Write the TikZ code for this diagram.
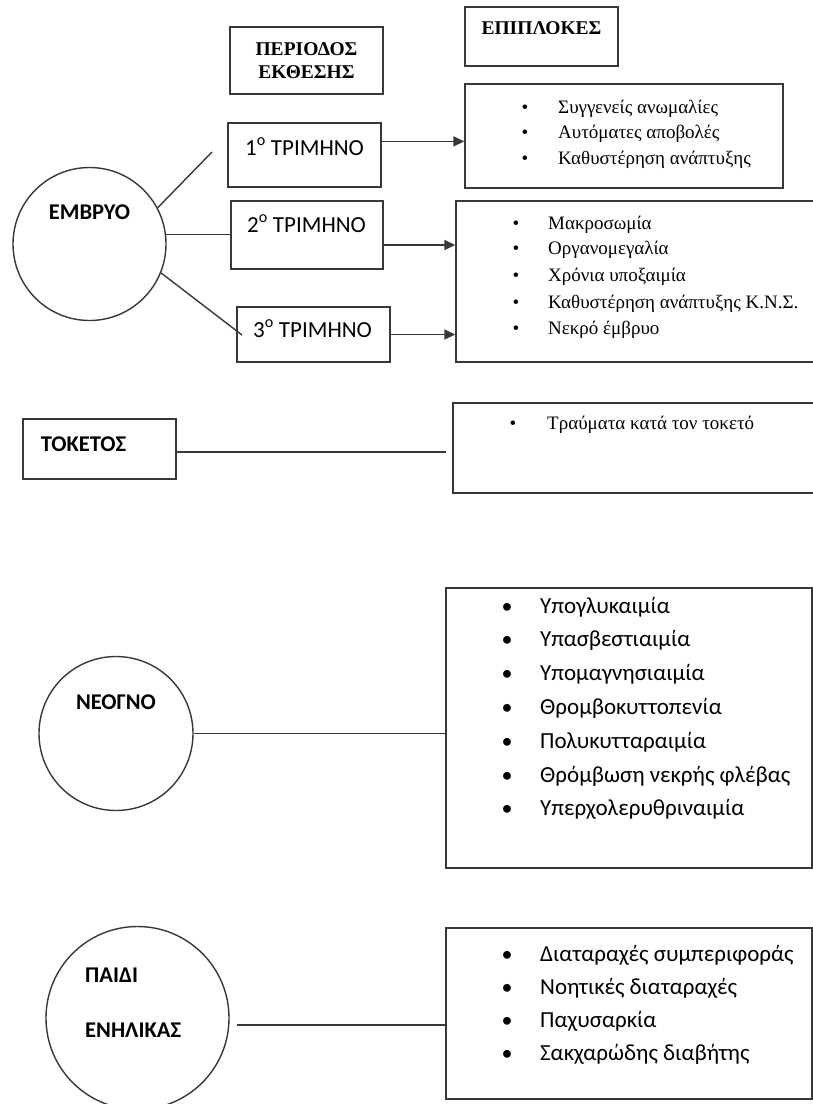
\documentclass[tikz,border=0pt]{standalone}
\usepackage{fontspec}
\setmainfont{Liberation Serif}
\newfontfamily\calfont{Carlito}
\usetikzlibrary{arrows.meta,calc}

\tikzset{
  box/.style={draw=black!78, line width=1.4pt, rectangle, inner sep=0pt},
  ring/.style={draw=black!78, line width=1.4pt, circle, inner sep=0pt},
  conn/.style={draw=black!78, line width=1.4pt},
  arr/.style={conn, line width=1.6pt, -{Triangle[length=11pt,width=10pt]}},
  serhead/.style={font=\fontsize{19.5}{23}\selectfont\bfseries, inner sep=0pt},
  seritem/.style={font=\fontsize{19}{23}\selectfont, inner sep=0pt, anchor=base west},
  serdot/.style={font=\fontsize{19}{23}\selectfont, inner sep=0pt, anchor=base},
  sanshead/.style={font=\calfont\fontsize{22.5}{27}\selectfont\bfseries, inner sep=0pt},
  sanslabel/.style={font=\calfont\fontsize{23}{27}\selectfont, inner sep=0pt, anchor=base},
  sansitem/.style={font=\calfont\fontsize{23}{27}\selectfont, inner sep=0pt, anchor=base west},
  sansdot/.style={font=\calfont\fontsize{22}{27}\selectfont, inner sep=0pt, anchor=base},
}

\begin{document}
\begin{tikzpicture}[x=1pt,y=-1pt]
\useasboundingbox[fill=white] (0,0) rectangle (813,1104);

% ---- column headings ----
\node[box, minimum width=153pt, minimum height=67pt] (per) at (306.5,60.5) {};
\node[serhead, align=center] (perlbl) at (306.5,60.5) {ΠΕΡΙΟΔΟΣ\\ΕΚΘΕΣΗΣ};
\node[box, minimum width=153pt, minimum height=59pt] (epi) at (541.5,36.5) {};
\node[serhead, anchor=base] (epilbl) at (541.5,34.5) {ΕΠΙΠΛΟΚΕΣ};

% ---- embryo and trimesters ----
\node[ring, minimum size=153pt] (emb) at (89.5,244) {};
\node[sanshead, anchor=base] (emblbl) at (89.5,219) {ΕΜΒΡΥΟ};

\node[box, minimum width=153pt, minimum height=64pt] (t1) at (304.5,155) {};
\node[sanslabel] (t1lbl) at (304.5,155) {1\textsuperscript{o} ΤΡΙΜΗΝΟ};
\node[box, minimum width=152pt, minimum height=68pt] (t2) at (307,235) {};
\node[sanslabel] (t2lbl) at (306.5,232) {2\textsuperscript{o} ΤΡΙΜΗΝΟ};
\node[box, minimum width=153pt, minimum height=55pt] (t3) at (313.5,334.5) {};
\node[sanslabel] (t3lbl) at (312.5,337) {3\textsuperscript{o} ΤΡΙΜΗΝΟ};

% first-trimester complications
\node[box, minimum width=318pt, minimum height=104pt] (A) at (624,136) {};
\foreach \i/\yy/\txt in {1/113/Συγγενείς ανωμαλίες, 2/138/Αυτόματες αποβολές, 3/164/Καθυστέρηση ανάπτυξης}{
  \node[serdot] (Ad\i) at (525,\yy) {•};
  \node[seritem] (At\i) at (558,\yy) {\txt};
}

% second/third-trimester complications
\node[box, minimum width=364pt, minimum height=161pt] (B) at (638,281.5) {};
\foreach \i/\yy/\txt in {1/229/Μακροσωμία, 2/254/Οργανομεγαλία, 3/281/Χρόνια υποξαιμία, 4/308/Καθυστέρηση ανάπτυξης Κ.Ν.Σ., 5/334/Νεκρό έμβρυο}{
  \node[serdot] (Bd\i) at (516,\yy) {•};
  \node[seritem] (Bt\i) at (548,\yy) {\txt};
}

\coordinate (e1end) at (212,152);
\coordinate (e3end) at (242,335);
\draw[conn] (emb.28) -- (e1end);
\draw[conn] (emb.7) -- (emb.7 -| t2.west);
\draw[conn] (emb.-22) -- (e3end);

\draw[arr] (t1.10) -- (t1.10 -| A.west);
\coordinate (t2out) at ($(t2.east)+(0,10)$);
\draw[arr] (t2out) -- (t2out -| B.west);
\draw[arr] (t3.east) -- (t3.east -| B.west);

% ---- delivery ----
\node[box, minimum width=153pt, minimum height=60pt] (tok) at (99.5,449) {};
\node[sanshead, anchor=base] (toklbl) at (83.5,451) {ΤΟΚΕΤΟΣ};
\node[box, minimum width=367pt, minimum height=90pt] (tr) at (636.5,448) {};
\node[serdot] (trd) at (513,429) {•};
\node[seritem] (trt) at (547,429) {Τραύματα κατά τον τοκετό};
\coordinate (tokout) at ($(tok.east)+(0,3)$);
\coordinate (tokend) at (446,452);
\draw[conn] (tokout) -- (tokend);

% ---- newborn ----
\node[ring, minimum size=154pt] (neo) at (116,733.5) {};
\node[sanshead, anchor=base] (neolbl) at (116,709) {ΝΕΟΓΝΟ};
\node[box, minimum width=366pt, minimum height=280pt] (nbox) at (629,728) {};
\foreach \i/\txt in {0/Υπογλυκαιμία, 1/Υπασβεστιαιμία, 2/Υπομαγνησιαιμία, 3/Θρομβοκυττοπενία, 4/Πολυκυτταραιμία, 5/Θρόμβωση νεκρής φλέβας, 6/Υπερχολερυθριναιμία}{
  \node[sansdot] (nd\i) at (507,613+33.8*\i) {•};
  \node[sansitem] (nt\i) at (540,613+33.8*\i) {\txt};
}
\draw[conn] (neo.east) -- (neo.east -| nbox.west);

% ---- child / adult ----
\node[ring, minimum size=183pt] (adult) at (137.5,1018) {};
\node[sanshead, anchor=base west] (chlbl) at (85,982) {ΠΑΙΔΙ};
\node[sanshead, anchor=base west] (adlbl) at (85,1037) {ΕΝΗΛΙΚΑΣ};
\node[box, minimum width=366pt, minimum height=171pt] (abox) at (629,1013.5) {};
\foreach \i/\txt in {0/Διαταραχές συμπεριφοράς, 1/Νοητικές διαταραχές, 2/Παχυσαρκία, 3/Σακχαρώδης διαβήτης}{
  \node[sansdot] (ad\i) at (507,961+33.3*\i) {•};
  \node[sansitem] (at\i) at (540,961+33.3*\i) {\txt};
}
\coordinate (adultout) at (237,1025);
\draw[conn] (adultout) -- (adultout -| abox.west);
\end{tikzpicture}
\end{document}
